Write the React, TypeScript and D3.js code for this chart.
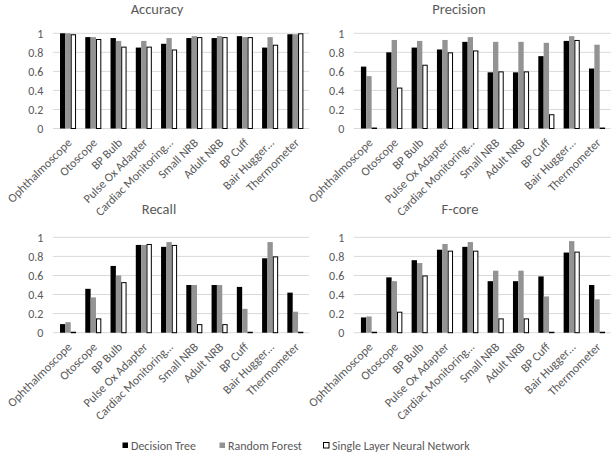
import React from "react";
import * as d3 from "d3";

const categories = [
  "Ophthalmoscope",
  "Otoscope",
  "BP Bulb",
  "Pulse Ox Adapter",
  "Cardiac Monitoring…",
  "Small NRB",
  "Adult NRB",
  "BP Cuff",
  "Bair Hugger…",
  "Thermometer",
];
const seriesNames = ["Decision Tree", "Random Forest", "Single Layer Neural Network"];
const yTicks = [0, 0.2, 0.4, 0.6, 0.8, 1];

const accuracyDT = [1.0, 0.96, 0.95, 0.85, 0.89, 0.95, 0.95, 0.97, 0.85, 0.99];
const accuracyRF = [1.0, 0.96, 0.92, 0.92, 0.95, 0.97, 0.97, 0.96, 0.96, 0.99];
const accuracyNN = [0.99, 0.94, 0.86, 0.86, 0.83, 0.96, 0.96, 0.96, 0.88, 1.0];

const precisionDT = [0.65, 0.8, 0.85, 0.83, 0.91, 0.59, 0.59, 0.76, 0.92, 0.63];
const precisionRF = [0.55, 0.93, 0.92, 0.93, 0.96, 0.91, 0.91, 0.9, 0.97, 0.88];
const precisionNN = [0.01, 0.43, 0.67, 0.8, 0.82, 0.6, 0.6, 0.15, 0.93, 0.01];

const recallDT = [0.09, 0.46, 0.7, 0.92, 0.9, 0.5, 0.5, 0.48, 0.78, 0.42];
const recallRF = [0.11, 0.37, 0.6, 0.92, 0.95, 0.5, 0.5, 0.25, 0.95, 0.22];
const recallNN = [0.01, 0.15, 0.53, 0.93, 0.92, 0.09, 0.09, 0.01, 0.8, 0.01];

const fcoreDT = [0.16, 0.58, 0.76, 0.87, 0.9, 0.54, 0.54, 0.59, 0.84, 0.5];
const fcoreRF = [0.17, 0.54, 0.73, 0.93, 0.95, 0.65, 0.65, 0.38, 0.96, 0.35];
const fcoreNN = [0.01, 0.22, 0.6, 0.86, 0.86, 0.15, 0.15, 0.01, 0.85, 0.01];

const FONT = "Carlito, Calibri, Lato, 'Open Sans', sans-serif";
const TXT = "#595959";
const GRID = "#d9d9d9";
const FILLS = ["#000000", "#939393", "#ffffff"];

type PanelProps = {
  title: string;
  values: number[][];
  x0: number;
  x1: number;
  yTop: number;
  yBottom: number;
  titleX: number;
  titleY: number;
};

function Panel({ title, values, x0, x1, yTop, yBottom, titleX, titleY }: PanelProps) {
  const xBand = d3.scaleBand<string>().domain(categories).range([x0, x1]).paddingInner(0).paddingOuter(0);
  const bw = xBand.bandwidth();
  const groupW = bw * 0.635;
  const inner = d3
    .scaleBand<number>()
    .domain([0, 1, 2])
    .range([(bw - groupW) / 2, (bw + groupW) / 2])
    .padding(0);
  const y = d3.scaleLinear().domain([0, 1]).range([yBottom, yTop]);
  return (
    <g>
      <text x={titleX} y={titleY} textAnchor="middle" fontSize={14.5} fill={TXT} fontFamily={FONT}>
        {title}
      </text>
      {yTicks.map((t) => (
        <g key={t}>
          <line x1={x0 - 2.5} x2={x1 + 1} y1={y(t)} y2={y(t)} stroke={GRID} strokeWidth={1} />
          <text
            x={x0 - 12}
            y={y(t)}
            dy="0.35em"
            textAnchor="end"
            fontSize={12}
            fill={TXT}
            fontFamily={FONT}
          >
            {d3.format("~g")(t)}
          </text>
        </g>
      ))}
      {categories.map((c, i) => (
        <g key={c}>
          {values.map((vals, s) => {
            const bx = (xBand(c) as number) + (inner(s) as number);
            const top = y(vals[i]);
            return (
              <rect
                key={s}
                x={s === 2 ? bx + 0.5 : bx}
                y={s === 2 ? top + 0.5 : top}
                width={s === 2 ? inner.bandwidth() - 1 : inner.bandwidth()}
                height={Math.max(0, y(0) - top - (s === 2 ? 0.5 : 0))}
                fill={FILLS[s]}
                stroke={s === 2 ? "#000" : "none"}
                strokeWidth={1}
              />
            );
          })}
          <text
            transform={`translate(${(xBand(c) as number) + bw / 2 + 1.5},${y(0) + 12}) rotate(-45)`}
            textAnchor="end"
            dy="0.35em"
            fontSize={12.2}
            fill={TXT}
            fontFamily={FONT}
          >
            {c}
          </text>
        </g>
      ))}
    </g>
  );
}

export default function App() {
  const legendX = [122, 219, 323];
  return (
    <svg
      width={615}
      height={452}
      style={{ position: "absolute", left: 0, top: 0, background: "#fff" }}
    >
      <rect width={615} height={452} fill="#fff" />
      <Panel
        title="Accuracy"
        values={[accuracyDT, accuracyRF, accuracyNN]}
        x0={55.4}
        x1={308}
        yTop={33.3}
        yBottom={128.5}
        titleX={157}
        titleY={14}
      />
      <Panel
        title="Precision"
        values={[precisionDT, precisionRF, precisionNN]}
        x0={356.3}
        x1={609.7}
        yTop={33.3}
        yBottom={128.5}
        titleX={459}
        titleY={14}
      />
      <Panel
        title="Recall"
        values={[recallDT, recallRF, recallNN]}
        x0={55.4}
        x1={308}
        yTop={237.3}
        yBottom={332.7}
        titleX={159}
        titleY={214}
      />
      <Panel
        title="F-core"
        values={[fcoreDT, fcoreRF, fcoreNN]}
        x0={356.3}
        x1={609.7}
        yTop={237.3}
        yBottom={332.7}
        titleX={460}
        titleY={214}
      />
      {seriesNames.map((name, s) => (
        <g key={name}>
          <rect
            x={legendX[s] + 0.5}
            y={442.5}
            width={5.5}
            height={5.5}
            fill={FILLS[s]}
            stroke={s === 2 ? "#000" : "none"}
            strokeWidth={1}
          />
          <text
            x={legendX[s] + 9}
            y={445.5}
            dy="0.35em"
            fontSize={12}
            fill={TXT}
            fontFamily={FONT}
          >
            {name}
          </text>
        </g>
      ))}
    </svg>
  );
}
